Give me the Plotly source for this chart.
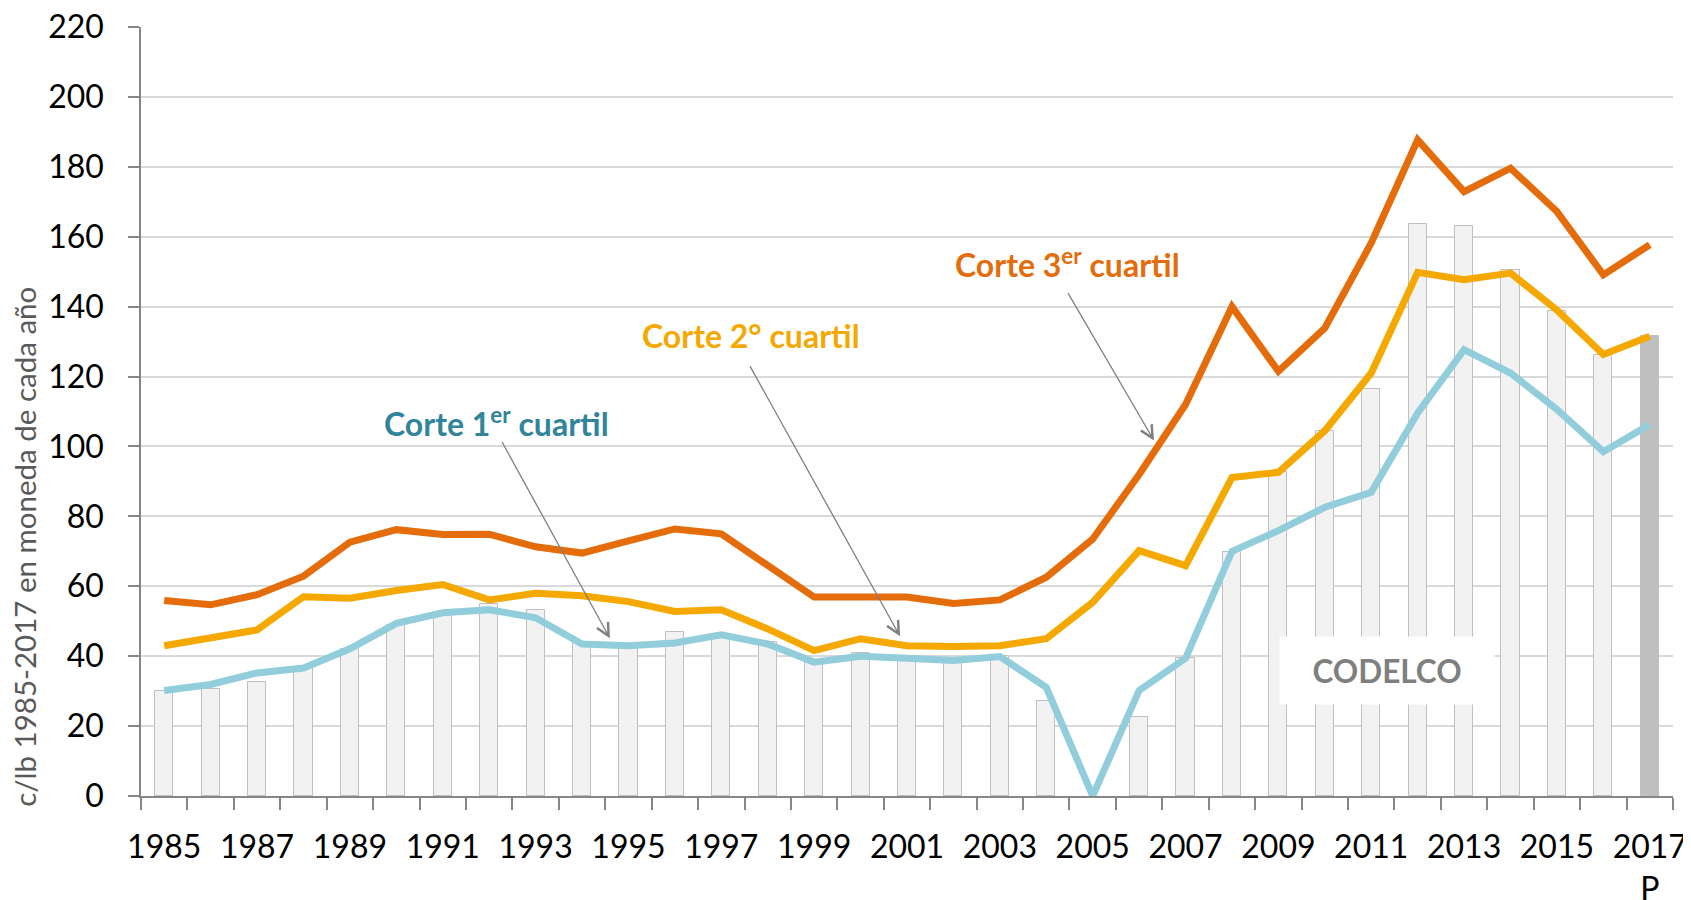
import plotly.graph_objects as go

years = list(range(1985, 2018))
codelco = [30.1, 30.6, 32.6, 37.0, 42.0, 49.0, 52.0, 55.0, 53.2, 44.0, 43.5, 46.9, 46.0, 44.0,
           38.5, 41.0, 40.0, 38.5, 40.0, 27.3, None, 22.6, 39.4, 69.9, 92.6, 104.5, 116.5,
           163.6, 163.2, 150.4, 138.7, 126.1, 131.5]
q1 = [30.2, 31.9, 35.2, 36.6, 42.1, 49.4, 52.4, 53.3, 51.0, 43.5, 43.0, 43.8, 46.1, 43.5,
      38.3, 40.0, 39.4, 38.8, 39.9, 31.1, 0.0, 30.2, 39.4, 70.0, 75.9, 82.6, 86.9,
      109.6, 127.7, 121.0, 110.6, 98.5, 106.3]
q2 = [43.0, 45.1, 47.5, 57.0, 56.6, 58.8, 60.5, 56.1, 58.0, 57.3, 55.6, 52.8, 53.3, 47.8,
      41.6, 45.0, 43.0, 42.8, 43.0, 45.0, 55.4, 70.2, 65.9, 91.1, 92.6, 104.5, 121.0,
      149.8, 147.7, 149.6, 139.0, 126.3, 131.5]
q3 = [55.9, 54.7, 57.6, 62.9, 72.6, 76.2, 74.8, 74.9, 71.3, 69.5, 73.0, 76.4, 75.0, 65.9,
      56.9, 56.9, 56.9, 55.1, 56.1, 62.6, 73.5, 92.0, 112.0, 140.0, 121.5, 133.9, 158.2,
      187.7, 172.9, 179.6, 167.2, 149.1, 157.7]
tick_years = list(range(1985, 2018, 2))
tick_text = [str(y) for y in tick_years[:-1]] + ["2017<br>P"]
y_ticks = list(range(0, 221, 20))

FONT = "Lato"
C_ORANGE = "#E46C0A"
C_YELLOW = "#F5A800"
C_BLUE = "#92CDDC"
C_TEAL = "#31849B"
C_AXIS = "#868686"

bar_fill = ["#F2F2F2"] * (len(years) - 1) + ["#BFBFBF"]

fig = go.Figure()
fig.add_trace(go.Bar(x=years, y=codelco, width=0.39, marker=dict(color=bar_fill,
                     line=dict(color="#BFBFBF", width=1)), name="CODELCO"))
fig.add_trace(go.Scatter(x=years, y=q1, mode="lines", line=dict(color=C_BLUE, width=7)))
fig.add_trace(go.Scatter(x=years, y=q2, mode="lines", line=dict(color=C_YELLOW, width=7)))
fig.add_trace(go.Scatter(x=years, y=q3, mode="lines", line=dict(color=C_ORANGE, width=7)))

arrow = dict(showarrow=True, arrowhead=5, arrowsize=1.9, arrowwidth=1.3, arrowcolor="#7F7F7F",
             axref="x", ayref="y", xref="x", yref="y", text="", standoff=0, startstandoff=0)
fig.add_annotation(x=1994.60, y=45.1, ax=1992.26, ay=101.7, **arrow)
fig.add_annotation(x=2000.85, y=45.7, ax=1997.60, ay=123.4, **arrow)
fig.add_annotation(x=2006.32, y=101.7, ax=2004.45, ay=144.3, **arrow)

lab = dict(showarrow=False, xref="x", yref="y", xanchor="center", yanchor="middle")
fig.add_annotation(x=1992.16, y=107.1, text="<b>Corte 1<sup>er</sup> cuartil</b>",
                   font=dict(family=FONT, size=32, color=C_TEAL), **lab)
fig.add_annotation(x=1997.65, y=131.7, text="<b>Corte 2° cuartil</b>",
                   font=dict(family=FONT, size=32, color=C_YELLOW), **lab)
fig.add_annotation(x=2004.45, y=152.6, text="<b>Corte 3<sup>er</sup> cuartil</b>",
                   font=dict(family=FONT, size=32, color=C_ORANGE), **lab)
fig.add_annotation(x=2011.34, y=35.8, text="<b>CODELCO</b>", width=212, height=65,
                   bgcolor="white", font=dict(family=FONT, size=31.5, color="#7F7F7F"), **lab)

fig.add_annotation(xref="paper", yref="paper", x=-0.0757, y=0.324, xanchor="center",
                   yanchor="middle", textangle=-90, showarrow=False,
                   text="c/lb 1985-2017 en moneda de cada año",
                   font=dict(family=FONT, size=29.5, color="#595959"))

# the page body adds an 8px offset, so margins are compensated
fig.update_layout(
    width=1691, height=900, showlegend=False, plot_bgcolor="white", paper_bgcolor="white",
    margin=dict(l=133, r=26, t=19, b=112), bargap=0,
    font=dict(family=FONT, size=32, color="black"),
)
fig.update_xaxes(range=[1984.5, 2017.5], tickmode="array", tickvals=tick_years, ticktext=tick_text,
                 ticks="outside", ticklen=0, tickwidth=0, showgrid=False, zeroline=False,
                 showline=True, linecolor=C_AXIS, linewidth=1.5, ticklabelstandoff=22,
                 automargin=False, ticklabeloverflow="allow",
                 tickfont=dict(family=FONT, size=32, color="black"),
                 minor=dict(tickmode="linear", tick0=1984.5, dtick=1, ticks="outside",
                            ticklen=12, tickcolor=C_AXIS, tickwidth=1.5, showgrid=False))
fig.update_yaxes(range=[0, 220], tickmode="array", tickvals=y_ticks, ticks="outside", ticklen=11,
                 tickcolor=C_AXIS, tickwidth=1.5, showline=True, linecolor=C_AXIS, linewidth=1.5,
                 showgrid=True, gridcolor="#D9D9D9", gridwidth=1.5, zeroline=False,
                 automargin=False, ticklabelstandoff=18, ticklabeloverflow="allow",
                 tickfont=dict(family=FONT, size=32, color="black"))

fig.write_html("out.html")
